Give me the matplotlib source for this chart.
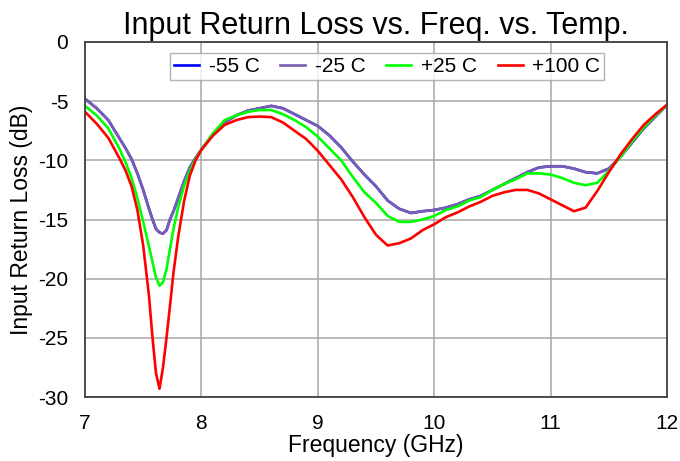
import numpy as np
import matplotlib.pyplot as plt

# frequency points (GHz)
freq = [7.0, 7.1, 7.2, 7.3, 7.35, 7.4, 7.45, 7.5, 7.55, 7.58, 7.61, 7.64, 7.67,
        7.7, 7.73, 7.76, 7.8, 7.85, 7.9, 7.95, 8.0, 8.1, 8.2, 8.3, 8.4, 8.5,
        8.6, 8.7, 8.8, 8.9, 9.0, 9.1, 9.2, 9.3, 9.4, 9.5, 9.6, 9.7, 9.8, 9.9,
        10.0, 10.1, 10.2, 10.3, 10.4, 10.5, 10.6, 10.7, 10.8, 10.9, 11.0, 11.1,
        11.2, 11.3, 11.4, 11.5, 11.6, 11.7, 11.8, 11.9, 12.0]

# input return loss (dB) per temperature
rl_m25 = [-4.8, -5.6, -6.6, -8.2, -9.0, -9.9, -11.1, -12.5, -14.1, -15.0, -15.8,
          -16.1, -16.2, -15.9, -15.0, -14.3, -13.2, -11.8, -10.6, -9.8, -9.1,
          -7.8, -6.8, -6.2, -5.8, -5.6, -5.4, -5.6, -6.1, -6.6, -7.1, -7.9,
          -8.9, -10.1, -11.2, -12.2, -13.4, -14.1, -14.45, -14.3, -14.2, -14.0,
          -13.7, -13.3, -13.0, -12.5, -12.0, -11.5, -11.0, -10.6, -10.5, -10.5,
          -10.7, -11.0, -11.1, -10.7, -9.7, -8.5, -7.3, -6.3, -5.3]
rl_m55 = list(rl_m25)
rl_p25 = [-5.4, -6.2, -7.3, -9.1, -10.2, -11.5, -13.2, -15.2, -17.3, -18.6, -19.9,
          -20.6, -20.3, -19.2, -17.5, -15.8, -14.0, -12.2, -10.9, -9.9, -9.1,
          -7.7, -6.6, -6.2, -5.9, -5.75, -5.75, -6.1, -6.6, -7.2, -8.0, -9.0,
          -10.0, -11.4, -12.7, -13.6, -14.7, -15.2, -15.2, -15.0, -14.7, -14.2,
          -13.9, -13.4, -13.1, -12.5, -12.0, -11.6, -11.1, -11.1, -11.2, -11.5,
          -11.9, -12.1, -11.9, -10.9, -9.7, -8.4, -7.2, -6.2, -5.3]
rl_p100 = [-5.9, -6.9, -8.1, -9.9, -10.9, -12.2, -14.2, -17.2, -21.5, -25.0, -28.0,
           -29.3, -27.5, -25.0, -22.3, -19.5, -16.5, -13.5, -11.3, -10.0, -9.1,
           -7.9, -7.0, -6.6, -6.35, -6.3, -6.35, -6.8, -7.5, -8.2, -9.2, -10.4,
           -11.6, -13.1, -14.8, -16.3, -17.2, -17.0, -16.6, -15.9, -15.4, -14.8,
           -14.4, -13.9, -13.5, -13.0, -12.7, -12.5, -12.5, -12.8, -13.3, -13.8,
           -14.3, -14.0, -12.6, -11.0, -9.5, -8.2, -7.0, -6.1, -5.3]

labels = ['-55 C', '-25 C', '+25 C', '+100 C']
colors = ['#0000ff', '#7a5fb0', '#00ff00', '#ff0000']

plt.rcParams['font.family'] = ['Liberation Sans', 'DejaVu Sans']
plt.rcParams['axes.unicode_minus'] = False

fig = plt.figure(figsize=(6.8, 4.61), dpi=100)
ax = fig.add_axes([0.125, 0.1388, 0.856, 0.7701])

for y, lab, c in zip([rl_m55, rl_m25, rl_p25, rl_p100], labels, colors):
    ax.plot(freq, y, color=c, lw=1.9, label=lab)

ax.set_xlim(7, 12)
ax.set_ylim(-30, 0)
ax.set_xticks(np.arange(7, 13, 1))
ax.set_yticks(np.arange(-30, 1, 5))
ax.grid(True, color='#a6a6a6', lw=1.1)
ax.set_axisbelow(True)
ax.tick_params(length=0, labelsize=15, pad=12)
for s in ax.spines.values():
    s.set_color('#404040')
    s.set_linewidth(1.3)

ax.set_xlabel('Frequency (GHz)', fontsize=16.5, labelpad=1)
ax.set_ylabel('Input Return Loss (dB)', fontsize=16.5, labelpad=4)
ax.set_title('Input Return Loss vs. Freq. vs. Temp.', fontsize=22, pad=6)

leg = ax.legend(loc='upper center', bbox_to_anchor=(0.519, 0.998), ncol=4,
                fontsize=15, frameon=True, fancybox=False, handlelength=1.2,
                columnspacing=1.0, handletextpad=0.45, borderpad=0.2)
leg.get_frame().set_edgecolor('#a0a0a0')
leg.get_frame().set_linewidth(1.0)

fig.savefig('out.png', dpi=100)
